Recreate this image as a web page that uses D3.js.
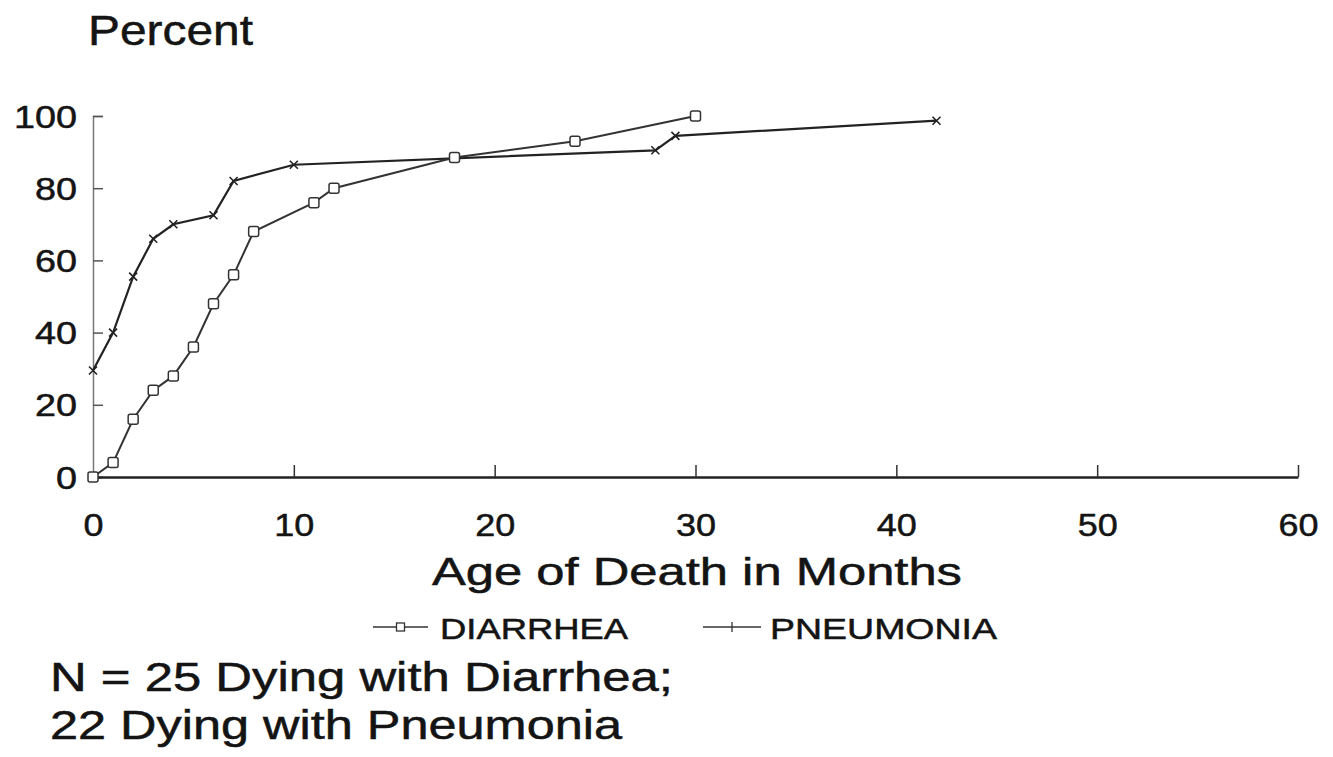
<!DOCTYPE html>
<html>
<head>
<meta charset="utf-8">
<script src="https://cdn.jsdelivr.net/npm/d3@7"></script>
<style>
  body { margin: 0; background: #fff; }
  text { font-family: "Liberation Sans", Arial, sans-serif; fill: #141414; stroke: #141414; stroke-width: 0.5; }
</style>
</head>
<body>
<div id="chart"></div>
<script>
// data (cumulative percent dying by age)
let diarrheaMonths = [0, 1, 2, 3, 4, 5, 6, 7, 8, 11, 12, 18, 24, 30];
let diarrheaPct = [0, 4, 16, 24, 28, 36, 48, 56, 68, 76, 80, 88.5, 93, 100];
let pneumoniaMonths = [0, 1, 2, 3, 4, 6, 7, 10, 28, 29, 42];
let pneumoniaPct = [29.5, 40, 55.5, 66, 70, 72.5, 82, 86.5, 90.5, 94.5, 98.7];
let xTicks = [0, 10, 20, 30, 40, 50, 60];
let yTicks = [0, 20, 40, 60, 80, 100];
let legendNames = ["DIARRHEA", "PNEUMONIA"];
let noteLines = ["N = 25 Dying with Diarrhea;", "22 Dying with Pneumonia"];

// svg dimensions
let svgWidth = 1333,
  svgHeight = 757;

let svg = d3
  .select("#chart")
  .append("svg")
  .attr("width", svgWidth)
  .attr("height", svgHeight);

// scales
let xScale = d3.scaleLinear().domain([0, 60]).range([93, 1298]);
let yScale = d3.scaleLinear().domain([0, 100]).range([477, 116]);

// the scanned figure is stretched sideways, so text widths are set explicitly
function stretch(sel, w) {
  sel.attr("textLength", w).attr("lengthAdjust", "spacingAndGlyphs");
}

// y axis, ticks pointing into the plot
let leftAxis = d3.axisLeft(yScale).tickValues(yTicks).tickSize(-10).tickPadding(16);
let yAxisGroup = svg.append("g").attr("transform", `translate(${xScale(0)},0)`).call(leftAxis);
yAxisGroup.select(".domain").attr("stroke", "#777").attr("stroke-width", 1.5);
yAxisGroup.selectAll(".tick line").attr("stroke", "#555").attr("stroke-width", 1.5);
yAxisGroup
  .selectAll(".tick text")
  .attr("font-size", 31)
  .attr("dy", "0.36em")
  .each(function (d) {
    stretch(d3.select(this), String(d).length * 21);
  });

// x axis, ticks pointing up
let bottomAxis = d3.axisBottom(xScale).tickValues(xTicks).tickSize(-12).tickSizeOuter(0);
let xAxisGroup = svg.append("g").attr("transform", `translate(0,${yScale(0)})`).call(bottomAxis);
xAxisGroup.select(".domain").attr("stroke", "#222").attr("stroke-width", 2.5);
xAxisGroup.selectAll(".tick line").attr("stroke", "#333").attr("stroke-width", 1.5);
xAxisGroup.selectAll(".tick").filter((d) => d === 0).select("line").remove();
xAxisGroup
  .selectAll(".tick text")
  .attr("font-size", 32)
  .attr("y", 59)
  .attr("dy", 0)
  .each(function (d) {
    stretch(d3.select(this), String(d).length * 20);
  });

// lines
let lineGen = d3
  .line()
  .x((d) => xScale(d[0]))
  .y((d) => yScale(d[1]));

let diarrheaData = diarrheaMonths.map((m, i) => [m, diarrheaPct[i]]);
let pneumoniaData = pneumoniaMonths.map((m, i) => [m, pneumoniaPct[i]]);

svg
  .append("path")
  .datum(pneumoniaData)
  .attr("d", lineGen)
  .attr("fill", "none")
  .attr("stroke", "#222")
  .attr("stroke-width", 2.2);

svg
  .append("path")
  .datum(diarrheaData)
  .attr("d", lineGen)
  .attr("fill", "none")
  .attr("stroke", "#333")
  .attr("stroke-width", 2);

// diarrhea markers: small open squares
svg
  .selectAll(".dMark")
  .data(diarrheaData)
  .enter()
  .append("rect")
  .classed("dMark", true)
  .attr("x", (d) => xScale(d[0]) - 5)
  .attr("y", (d) => yScale(d[1]) - 5)
  .attr("width", 10)
  .attr("height", 10)
  .attr("rx", 2)
  .attr("fill", "#fff")
  .attr("stroke", "#333")
  .attr("stroke-width", 1.5);

// pneumonia markers: small crosses
svg
  .selectAll(".pMark")
  .data(pneumoniaData)
  .enter()
  .append("path")
  .classed("pMark", true)
  .attr("d", (d) => {
    let cx = xScale(d[0]),
      cy = yScale(d[1]);
    return `M${cx - 4},${cy - 4}L${cx + 4},${cy + 4}M${cx - 4},${cy + 4}L${cx + 4},${cy - 4}`;
  })
  .attr("stroke", "#222")
  .attr("stroke-width", 1.6);

// axis titles
svg.append("text").attr("x", 88).attr("y", 45).attr("font-size", 43).call(stretch, 165).text("Percent");

svg
  .append("text")
  .attr("x", 432)
  .attr("y", 585)
  .attr("font-size", 38)
  .call(stretch, 530)
  .text("Age of Death in Months");

// legend
let legendX = [373, 703];
let legendLen = [55, 58];
let legendTextX = [440, 770];
let legendW = [188, 227];
legendNames.forEach((name, i) => {
  let g = svg.append("g");
  g.append("line")
    .attr("x1", legendX[i])
    .attr("x2", legendX[i] + legendLen[i])
    .attr("y1", 627)
    .attr("y2", 627)
    .attr("stroke", "#333")
    .attr("stroke-width", 1.5);
  let mx = legendX[i] + legendLen[i] / 2;
  if (i === 0) {
    g.append("rect")
      .attr("x", mx - 4)
      .attr("y", 623)
      .attr("width", 8)
      .attr("height", 8)
      .attr("fill", "#fff")
      .attr("stroke", "#333")
      .attr("stroke-width", 1.3);
  } else {
    g.append("path")
      .attr("d", `M${mx},${622}L${mx},${632}`)
      .attr("stroke", "#333")
      .attr("stroke-width", 1.3);
  }
  g.append("text")
    .attr("x", legendTextX[i])
    .attr("y", 639)
    .attr("font-size", 29)
    .call(stretch, legendW[i])
    .text(name);
});

// sample size note
let noteW = [623, 572];
noteLines.forEach((line, i) => {
  svg
    .append("text")
    .attr("x", 50)
    .attr("y", 691 + i * 48)
    .attr("font-size", 40)
    .call(stretch, noteW[i])
    .text(line);
});
</script>
</body>
</html>
